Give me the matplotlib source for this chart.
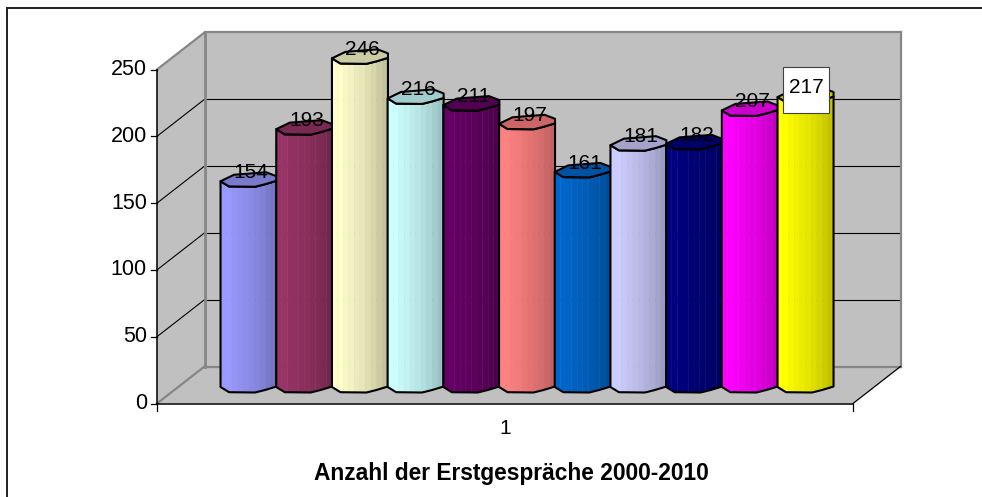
import numpy as np
import matplotlib
matplotlib.use("Agg")
import matplotlib.pyplot as plt
from matplotlib.patches import Polygon, Rectangle
from matplotlib.colors import to_rgb

plt.rcParams['font.family'] = ['Liberation Sans', 'DejaVu Sans']

# --- data ---
years = [2000, 2001, 2002, 2003, 2004, 2005, 2006, 2007, 2008, 2009, 2010]
values = [154, 193, 246, 216, 211, 197, 161, 181, 182, 207, 217]
colors = ['#9999FF', '#993366', '#FFFFCC', '#CCFFFF', '#660066', '#FF8080',
          '#0066CC', '#CCCCFF', '#000080', '#FF00FF', '#FFFF00']
y_ticks = [0, 50, 100, 150, 200, 250]
category_label = "1"
title = "Anzahl der Erstgespräche 2000-2010"

# --- layout (pixels) ---
W, H = 982, 497
L, R, B, T = 157.0, 853.0, 403.5, 69.5      # front plane of the axes
DX, DY = 47.5, 37.0                          # depth offset of the back wall
SPACING = 55.7
FIRST = 225.3

fig = plt.figure(figsize=(W / 100, H / 100), dpi=100)
ax = fig.add_axes([L / W, 1 - B / H, (R - L) / W, (B - T) / H])
ax.set_xlim((L - FIRST) / SPACING, (R - FIRST) / SPACING)
ax.set_ylim(0, 250)
ax.axis('off')
PX = SPACING
PY = (B - T) / 250.0


def P(x, y, dx=0.0, dy=0.0):
    """data position plus a pixel offset (dy upwards)"""
    return (x + dx / PX, y + dy / PY)


def add_poly(pts, **kw):
    kw.setdefault('clip_on', False)
    ax.add_patch(Polygon(pts, closed=True, **kw))


def add_line(a, b, color='black', lw=1.0, z=2):
    ax.plot([a[0], b[0]], [a[1], b[1]], color=color, lw=lw, clip_on=False,
            zorder=z, solid_capstyle='projecting')


x0, x1 = ax.get_xlim()
wall = '#C0C0C0'
edge = '#868686'
add_poly([P(x0, 0), P(x0, 0, DX, DY), P(x0, 250, DX, DY), P(x0, 250)], fc=wall, ec='none', zorder=1)
add_poly([P(x0, 0, DX, DY), P(x1, 0, DX, DY), P(x1, 250, DX, DY), P(x0, 250, DX, DY)], fc=wall, ec='none', zorder=1)
add_poly([P(x0, 0), P(x1, 0), P(x1, 0, DX, DY), P(x0, 0, DX, DY)], fc=wall, ec='none', zorder=1)

for t in y_ticks[1:-1]:
    add_line(P(x0, t), P(x0, t, DX, DY), lw=0.8)
    add_line(P(x0, t, DX, DY), P(x1, t, DX, DY), lw=0.8)

# wall borders
add_line(P(x0, 250), P(x0, 250, DX, DY), edge, 1.6)
add_line(P(x0, 250, DX, DY), P(x1, 250, DX, DY), edge, 1.6)
add_line(P(x1, 250, DX, DY), P(x1, 0, DX, DY), edge, 1.6)
add_line(P(x1, 0, DX, DY), P(x0, 0, DX, DY), edge, 1.6)
add_line(P(x0, 0, DX, DY), P(x0, 250, DX, DY), edge, 2.0)
add_line(P(x0, 0), P(x0, 0, DX, DY), edge, 1.6)
add_line(P(x1, 0), P(x1, 0, DX, DY), 'black', 0.9)

# axes
add_line(P(x0, 0), P(x0, 250), 'black', 1.1, 3)
add_line(P(x0, 0), P(x1, 0), 'black', 1.1, 3)
for t in y_ticks:
    add_line(P(x0, t), P(x0, t, -6.5, 0), 'black', 0.9, 3)
    ax.text(*P(x0, t, -10, 0), str(t), ha='right', va='center', fontsize=15.5, color='black', clip_on=False)
add_line(P(x0, 0), P(x0, 0, 0, -7), 'black', 0.9, 3)
add_line(P(x1, 0), P(x1, 0, 0, -7), 'black', 0.9, 3)

# cylinders: the low-resolution faceted outline of the reference, in pixels around the column centre
front_x = np.array([-28.5, -20.0, 6.0, 16.0, 27.5])
front_y = np.array([-2.0, -7.2, -7.5, -5.0, -1.5])
back_x = np.array([27.5, 17.0, -15.0])
back_y = np.array([3.0, 7.0, 4.5])
shades = [1.0, 1.0, 0.97, 0.95, 0.92, 0.90, 0.87, 0.84, 0.80, 0.76]
edges_x = np.linspace(front_x[0], front_x[-1], len(shades) + 1)
edges_y = np.interp(edges_x, front_x, front_y)

for i, (v, c) in enumerate(zip(values, colors)):
    base = np.array(to_rgb(c))
    z = 10 + i
    mx, my = DX / 2, DY / 2
    for k, s in enumerate(shades):
        col = base * s
        add_poly([P(i, 0, mx + edges_x[k], my + edges_y[k]),
                  P(i, 0, mx + edges_x[k + 1], my + edges_y[k + 1]),
                  P(i, v, mx + edges_x[k + 1], my + edges_y[k + 1]),
                  P(i, v, mx + edges_x[k], my + edges_y[k])],
                 fc=col, ec=col, lw=0.3, zorder=z)
    outline = ([P(i, 0, mx + a, my + b) for a, b in zip(front_x, front_y)] +
               [P(i, v, mx + a, my + b) for a, b in zip(front_x[::-1], front_y[::-1])])
    add_poly(outline, fc='none', ec='black', lw=1.5, zorder=z + 0.1, joinstyle='round')
    top = ([P(i, v, mx + a, my + b) for a, b in zip(front_x, front_y)] +
           [P(i, v, mx + a, my + b) for a, b in zip(back_x, back_y)])
    add_poly(top, fc=base * 0.8, ec='black', lw=1.5, zorder=z + 0.2, joinstyle='round')

# value labels
for i, v in enumerate(values):
    if i == len(values) - 1:
        continue
    ax.text(*P(i, v, DX / 2 + 2.0, DY / 2 + 6.5), str(v), ha='center', va='center',
            fontsize=15, color='black', zorder=40, clip_on=False)

# highlighted label of the last column
last = len(values) - 1
ax.add_patch(Rectangle(P(last, values[last], DX / 2 - 23, DY / 2 - 18), 46 / PX, 46 / PY,
                       fc='white', ec='#404040', lw=0.8, zorder=41, clip_on=False))
ax.text(*P(last, values[last], DX / 2, DY / 2 + 8), str(values[last]), ha='center', va='center',
        fontsize=15, zorder=42, clip_on=False)

# category and title
ax.text(*P((x0 + x1) / 2, 0, 0, -25), category_label, ha='center', va='center', fontsize=15, clip_on=False)
ax.text(*P((x0 + x1) / 2 + 6.5 / PX, 0, 0, -70), title, ha='center', va='center', fontsize=16.4,
        fontweight='bold', clip_on=False)

# outer frame: the top and left edges are the only ones inside the picture
fig.add_artist(plt.Line2D([7 / W, 7 / W], [0, 1 - 8 / H], color='#202020', lw=1.4))
fig.add_artist(plt.Line2D([7 / W, 1], [1 - 8 / H, 1 - 8 / H], color='#202020', lw=1.4))

fig.savefig('out.png', dpi=100)
